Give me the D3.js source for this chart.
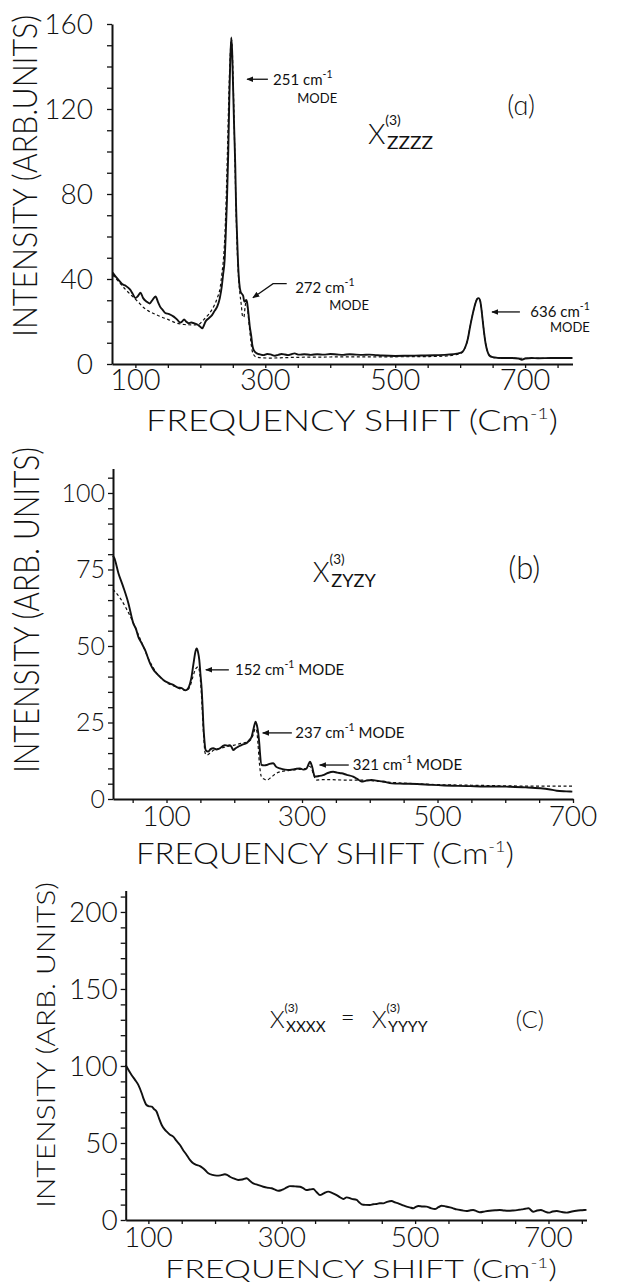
<!DOCTYPE html>
<html>
<head>
<meta charset="utf-8">
<title>Raman spectra, three polarizations</title>
<script src="https://cdn.jsdelivr.net/npm/d3@7/dist/d3.min.js"></script>
<style>
 body { margin: 0; background: #fff; }
 svg text { font-family: "Lato", "DejaVu Sans", sans-serif; fill: #111; }
 .num, .title, .big { font-weight: 300; }
 .note { font-weight: 400; }
 .domain { stroke: #111; stroke-width: 2; }
 .tick line { stroke: #111; stroke-width: 1.3; }
</style>
</head>
<body>
<script>
// ---- panel (a): chi zzzz ----
var aSolid = [[65,43],[70,41],[74,39.6],[80,37.5],[85,36.8],[92,35],[96,33],[100,31],[104,32],[108,33.5],
 [112,31],[117,29.4],[122,28.5],[126,30],[131,31.8],[135,29],[138,27],[142,25.5],[146,24],[152,23.5],
 [159,22.3],[164,21],[169,19.5],[172,20],[175,21],[178,20],[182,19.2],[186,19.5],[190,19.2],[196,18.5],
 [200,17.5],[203,16.8],[206,18.5],[208,20],[213,21.5],[218,23],[222,25],[226,27],[230,31],[233,36.5],
 [235,42],[237.4,49],[239,60],[241,77],[243,100],[244.6,124.6],[246,142],[247.7,153.7],[249,147],[250.3,132],
 [252,112],[253.8,93],[255,75],[256.4,61.7],[258,48],[260,38],[262,34],[264,33],[266,32],[267.7,29.4],
 [269,29.5],[270.8,30.2],[272,29],[274,24],[276,18],[278.5,12.9],[280,9],[282,6.6],[285,5.5],[287,5],
 [292,4.5],[297,4.2],[303,4.7],[308,4.5],[315,3.9],[320,4.3],[325,4.7],[330,4.5],[335,4.2],[340,4.6],
 [345,5],[352,4.4],[360,4.6],[370,4.3],[380,4.6],[390,4.4],[400,4.7],[410,4.5],[420,4.3],[430,4.6],
 [440,4.4],[450,4.3],[460,4.4],[470,4.2],[480,4],[500,3.8],[520,3.9],[540,4],[560,4.1],[580,4.4],
 [595,4.9],[603,5.6],[608,8],[612,12],[615,17],[619,23],[623,28],[626,30.5],[628.5,31],[631,29.5],
 [633.5,24],[636,17],[639,10],[642,6],[645,4],[650,3.2],[658,2.9],[670,2.8],
 [680,2.8],[690,2.6],[695,2],[700,2.6],[710,2.8],[720,2.7],[740,2.8],[760,2.8],[773,2.8]];
var aDashed = [[65,42],[75,38.5],[85,35],[95,32],[105,29],[113,26.5],[120,25],[130,23.5],[138.5,22.3],[150,21],
 [164,19.2],[175,18.6],[189,18.4],[197,18.6],[205,20.8],[213,23.5],[220.5,27],[226,31],[230.8,36.5],[233,42],
 [235.9,50.6],[238,62],[240,80],[242,103],[244,128],[246,145],[247.7,153],[249.5,145],[251,128],[253,100],
 [255,72],[257,52],[259,40],[261,33],[263,28],[265,22.5],[267,22],[269,27],[270.8,30],[272.5,27],
 [274,22],[276,16],[278,10],[280,6],[283,4],[287,3.2],[295,2.9],[310,2.8],[330,3],[360,3.2],
 [400,3.3],[450,3.4],[500,3.4],[550,3.5],[580,3.8],[595,4.5],[603,5.4],[608,8],[612,12],[615,17],
 [619,23],[623,28],[626,30.5],[628.5,31],[631,29.5],[633.5,24],[636,17],[639,10],[642,6],[645,4],
 [650,3.1],[660,2.8],[700,2.7],[773,2.7]];

// ---- panel (b): chi zyzy ----
var bSolid = [[21,79.5],[23,78.7],[29,73.8],[36,69.4],[43.7,64],[51,57.4],[55,55.5],[58.4,53],[63,51],[68.3,48.7],
 [75.7,44.3],[80,42.5],[85.5,41],[90,40],[95.3,38.9],[102,38],[110,37.3],[116,36.5],[122.4,36.2],[128,35.5],
 [132,36.2],[135,38],[137,40],[139,43],[140.6,45.4],[142.5,48],[144.5,49.2],[146.5,48],[148.4,45.4],[150,41],
 [152,35.6],[153.3,30],[154.3,24.7],[156,19],[157.8,16],[161.7,15.5],[165,16.3],[169,16.6],[174,16.2],[179,16.6],
 [183,17.3],[186,17.6],[190,17.4],[193.7,17.6],[196,17],[198.5,16],[202,16.6],[205.9,17.1],[212,17.8],[218,18.2],
 [222,19.2],[225.7,20.4],[228.5,23],[231.5,25.3],[233.5,24],[235.4,21.5],[237,18],[238,14.9],[240.4,11.1],[244,11],
 [247.8,11.1],[252,11.5],[257.5,11.7],[262,10.5],[267.4,10],[275,9.6],[282,9.5],[290,9.8],[297,10],[302,9.6],
 [306.8,10],[309,11],[311.7,12.2],[313.5,11.5],[315.6,10],[317,8.5],[319,7.3],[325,7.5],[331,7.8],[338,8.5],
 [346,8.9],[352,8.6],[358.4,8.4],[366,7.9],[375.5,7.3],[382,6.5],[388,5.7],[395,6],[402.6,6.2],[410,6],
 [420,5.7],[432.6,5.1],[450,5],[470,4.9],[490.7,4.6],[510,4.4],[530,4.3],[548.5,4.2],[570,4.1],[590,4.1],
 [606,4],[630,3.8],[652,3.5],[664,3.2],[676,2.7],[690,2.5],[699,2.4]];
var bDashed = [[21,68.5],[25,67.5],[32,65.5],[40,62.5],[48,59],[56,55],[65.8,49.8],[72,46.5],[80,43],[90,40],
 [100,38],[110,37],[120,36],[130,35.5],[135,37],[139,40],[143,42.5],[147,43.2],[149,41],[151,36],
 [153,28],[155,20],[157,15],[160,14.4],[165,15.2],[170,16],[180,16.6],[190,17.2],[200,17.6],[210,18.2],
 [218,18.5],[225,19.5],[228,21],[231,23],[233,22.5],[235,18],[237,12],[240,7.3],[244,6.5],[248,6.2],
 [255,7.2],[262,8.4],[270,9],[280,9.3],[287,9.5],[297,9.7],[307,10],[311,10.7],[314,10],[317,8],
 [321,6.2],[330,6.3],[345,6.3],[360,6.2],[385,6.2],[402,6],[420,5.6],[450,5.2],[500,4.7],[550,4.5],
 [600,4.3],[650,4.2],[700,4.2]];

// ---- panel (c): chi xxxx = chi yyyy ----
var cSolid = [[66,100.6],[70,97.5],[75,94],[80,91],[84.9,87.7],[90,82.3],[93,78.5],[96.4,75.1],[100,74],[105,73.6],
 [108.5,72],[112.4,70.3],[116,66],[120,61.7],[124,59],[127.4,57.4],[132,55.5],[137.3,54.1],[142,51.5],[147.4,48.7],
 [152,45.5],[157.4,42.2],[162,39.2],[167.3,36.8],[172,35.8],[177.4,35],[181,34],[184.9,32.5],[189.9,30.3],[196,29.3],
 [202.4,28.8],[208,29],[214.8,29.7],[218,29.3],[222.3,28.1],[228,27],[234.8,26],[241,26.3],[247.4,27.1],[252,25.5],
 [257.3,23.8],[264,22.8],[272.3,21.6],[278,21],[284.8,20.6],[290,19.7],[294.8,19],[299,19.3],[302.3,19.9],[307,21],
 [312.3,22],[320,21.8],[327.3,21.6],[332,20.7],[337.3,19.5],[342,19.8],[347.2,20.1],[352,18.2],[357.3,16.2],[363,17.3],
 [369.7,18.4],[376,17.5],[382.3,16.2],[388,14.6],[392.2,13.6],[397.3,14.7],[405,13.7],[412.3,13],[416,11.5],[419.8,10.2],
 [426,9.8],[432.2,9.7],[437,10.2],[442.3,10.4],[447,10.9],[452.2,10.8],[458,11.8],[464.8,12.3],[470,11.4],[474.7,10.8],
 [481,9.7],[487.3,8.7],[492,8.2],[497.2,7.6],[501,8.5],[504.7,9.1],[511,8.8],[517.2,8.7],[523,7.8],[529.7,7.1],
 [535,8.3],[539.7,9.3],[546,8.8],[552.2,8.2],[557,7.6],[562.2,6.9],[570,6.3],[577.2,5.8],[582,6.2],[587.1,6.5],
 [592,5.8],[597.2,5],[605,5.6],[612.1,6],[620,6.3],[627.1,6.5],[633,6.2],[639.6,6],[647,6.2],[655,6.6],
 [660,6.9],[665,7.3],[670,7.6],[677,5.4],[683,6.2],[688.6,6.5],[694,5.6],[700.6,4.8],[706,5.5],[712.5,5.8],
 [720,5.2],[727,4.8],[735,5.5],[741.8,6],[748,6.3],[753.5,6.5],[757,6.6]];

// tick values and labels
var aXTicks = d3.range(100, 751, 50), aYTicks = d3.range(0, 161, 10);
var aXLabels = [100, 300, 500, 700], aYLabels = [0, 40, 80, 120, 160];
var bXTicks = d3.range(50, 701, 50), bYTicks = d3.range(0, 106, 5);
var bXLabels = [100, 300, 500, 700], bYLabels = [0, 25, 50, 75, 100];
var cXTicks = d3.range(100, 751, 50), cYTicks = d3.range(0, 211, 10);
var cXLabels = [100, 300, 500, 700], cYLabels = [0, 50, 100, 150, 200];

// mode annotations: arrow points in data units, text anchor, label
var aModes = [
  {pts: [[304, 134], [272, 134]], tx: 312, ty: 131.2, num: "251", mx: 380, my: 122.7},
  {pts: [[333, 37.8], [312, 37.8], [281, 31.2]], tx: 346, ty: 33.5, num: "272", mx: 429, my: 25.5},
  {pts: [[692, 24.5], [649, 24.5]], tx: 708, ty: 22.2, num: "636", mx: 769, my: 15.1}
];
var bModes = [
  {pts: [[192, 42.2], [158, 42.2]], tx: 201, ty: 40.5, num: "152"},
  {pts: [[285, 21.6], [242, 21.6]], tx: 290, ty: 19.9, num: "237"},
  {pts: [[369, 11.1], [326, 11.1]], tx: 375, ty: 9.5, num: "321"}
];

var W = 617, H = 1285;
var svg = d3.select("body").append("svg").attr("width", W).attr("height", H);
svg.append("rect").attr("width", W).attr("height", H).attr("fill", "#fff");

svg.append("defs").append("marker")
   .attr("id", "head").attr("viewBox", "0 0 10 10")
   .attr("refX", 9).attr("refY", 5)
   .attr("markerWidth", 7).attr("markerHeight", 7)
   .attr("markerUnits", "userSpaceOnUse")
   .attr("orient", "auto")
   .append("path").attr("d", "M0,1 L10,5 L0,9 Z").attr("fill", "#111");

function panel(p) {
    var g = svg.append("g");
    var x = d3.scaleLinear().domain(p.xDomain).range(p.xRange);
    var y = d3.scaleLinear().domain(p.yDomain).range(p.yRange);

    g.append("g")
     .attr("transform", "translate(0," + p.yRange[0] + ")")
     .call(d3.axisBottom(x).tickValues(p.xTicks).tickSize(4).tickSizeOuter(0).tickFormat(""));
    g.append("g")
     .attr("transform", "translate(" + p.xRange[0] + ",0)")
     .call(d3.axisLeft(y).tickValues(p.yTicks).tickSize(5).tickSizeOuter(0).tickFormat(""));

    g.selectAll(".xl").data(p.xLabels).enter().append("text")
     .attr("class", "num")
     .attr("x", function(d){ return x(d); })
     .attr("y", p.yRange[0] + p.xLabDy)
     .attr("text-anchor", "middle")
     .style("font-size", p.numSize + "px")
     .text(function(d){ return d; });
    g.selectAll(".yl").data(p.yLabels).enter().append("text")
     .attr("class", "num")
     .attr("x", p.xRange[0] - p.yLabGap)
     .attr("y", function(d){ return y(d); })
     .attr("dy", "0.36em")
     .attr("text-anchor", "end")
     .style("font-size", p.yNumSize + "px")
     .text(function(d){ return d; });

    var line = d3.line()
        .x(function(d){ return x(d[0]); })
        .y(function(d){ return y(d[1]); })
        .curve(d3.curveMonotoneX);
    if (p.dashed) {
        g.append("path").datum(p.dashed)
         .attr("d", line).attr("fill", "none")
         .attr("stroke", "#111").attr("stroke-width", 1.2)
         .attr("stroke-dasharray", "3,2.5");
    }
    g.append("path").datum(p.solid)
     .attr("d", line).attr("fill", "none")
     .attr("stroke", "#111").attr("stroke-width", 1.9)
     .attr("stroke-linejoin", "round");

    // axis titles
    g.append("text").attr("class", "title")
     .attr("transform", "translate(" + p.yTitle[0] + "," + p.yTitle[1] + ") rotate(-90)")
     .attr("text-anchor", "middle")
     .style("font-size", p.yTitle[3] + "px")
     .attr("textLength", p.yTitle[2]).attr("lengthAdjust", "spacingAndGlyphs")
     .text(p.yTitleText);

    var xt = g.append("text").attr("class", "title")
     .attr("x", p.xTitle[0]).attr("y", p.xTitle[1])
     .style("font-size", p.xTitle[3] + "px")
     .attr("textLength", p.xTitle[2]).attr("lengthAdjust", "spacingAndGlyphs");
    xt.append("tspan").text("FREQUENCY  SHIFT  (Cm");
    xt.append("tspan").attr("dy", -p.xTitle[3] * 0.4).style("font-size", (p.xTitle[3] * 0.55) + "px").text("-1");
    xt.append("tspan").attr("dy", p.xTitle[3] * 0.4).text(")");

    return {g: g, x: x, y: y};
}

function chi(g, x0, y0, sub, size) {
    g.append("text").attr("class", "big").attr("x", x0).attr("y", y0)
     .style("font-size", size + "px").text("X");
    g.append("text").attr("class", "note").attr("x", x0 + size * 0.62).attr("y", y0 - size * 0.68)
     .style("font-size", (size * 0.5) + "px").text("(3)");
    g.append("text").attr("class", "note").attr("x", x0 + size * 0.68).attr("y", y0 + size * 0.18)
     .style("font-size", (size * 0.62) + "px")
     .attr("textLength", size * 1.65).attr("lengthAdjust", "spacingAndGlyphs").text(sub);
}

function arrowLine(g, P, pts) {
    g.append("path")
     .attr("d", d3.line()(pts.map(function(d){ return [P.x(d[0]), P.y(d[1])]; })))
     .attr("fill", "none").attr("stroke", "#111").attr("stroke-width", 1.3)
     .attr("marker-end", "url(#head)");
}

function cmText(g, x0, y0, num, size, tail) {
    var t = g.append("text").attr("class", "note").attr("x", x0).attr("y", y0)
        .style("font-size", size + "px");
    t.append("tspan").text(num + "  cm");
    t.append("tspan").attr("dy", -size * 0.45).style("font-size", (size * 0.7) + "px").text("-1");
    if (tail) t.append("tspan").attr("dy", size * 0.45).text(" " + tail);
    return t;
}

// ---------- (a) ----------
var A = panel({
    xDomain: [64, 773], xRange: [112, 572.5],
    yDomain: [0, 160], yRange: [364, 24],
    xTicks: aXTicks, yTicks: aYTicks, xLabels: aXLabels, yLabels: aYLabels,
    xLabDy: 26, yLabGap: 19, numSize: 29, yNumSize: 28,
    solid: aSolid, dashed: aDashed,
    yTitle: [37, 176, 322, 33], yTitleText: "INTENSITY (ARB.UNITS)",
    xTitle: [146, 431, 412, 30]
});
aModes.forEach(function(m) {
    arrowLine(A.g, A, m.pts);
    cmText(A.g, A.x(m.tx), A.y(m.ty), m.num, 15);
    A.g.append("text").attr("class", "note")
     .attr("x", A.x(m.mx)).attr("y", A.y(m.my))
     .attr("text-anchor", "middle").style("font-size", "13px").text("MODE");
});
A.g.append("text").attr("class", "big").attr("x", A.x(694)).attr("y", A.y(117))
 .attr("text-anchor", "middle").style("font-size", "27px").text("(ɑ)");
chi(A.g, A.x(458), A.y(103.4), "ZZZZ", 28);

// ---------- (b) ----------
var B = panel({
    xDomain: [21, 700], xRange: [113, 573],
    yDomain: [0, 108], yRange: [799, 468.5],
    xTicks: bXTicks, yTicks: bYTicks, xLabels: bXLabels, yLabels: bYLabels,
    xLabDy: 27, yLabGap: 8, numSize: 28, yNumSize: 25,
    solid: bSolid, dashed: bDashed,
    yTitle: [39, 610, 326, 36], yTitleText: "INTENSITY (ARB. UNITS)",
    xTitle: [136, 864, 378, 30]
});
bModes.forEach(function(m) {
    arrowLine(B.g, B, m.pts);
    cmText(B.g, B.x(m.tx), B.y(m.ty), m.num, 15, "MODE");
});
B.g.append("text").attr("class", "big").attr("x", B.x(628)).attr("y", B.y(71.9))
 .attr("text-anchor", "middle").style("font-size", "31px").text("(b)");
chi(B.g, B.x(316), B.y(70.9), "ZYZY", 27);

// ---------- (c) ----------
var C = panel({
    xDomain: [66, 757], xRange: [125.7, 586.5],
    yDomain: [0, 214], yRange: [1220, 890.4],
    xTicks: cXTicks, yTicks: cYTicks, xLabels: cXLabels, yLabels: cYLabels,
    xLabDy: 27, yLabGap: 8, numSize: 28, yNumSize: 28,
    solid: cSolid,
    yTitle: [55, 1045, 326, 26], yTitleText: "INTENSITY (ARB. UNITS)",
    xTitle: [165, 1278, 392, 26]
});
var cx0 = C.x(282), cy0 = C.y(124.7);
chi(C.g, cx0, cy0, "XXXX", 24);
C.g.append("text").attr("class", "big").attr("x", cx0 + 71).attr("y", cy0 - 2)
 .style("font-size", "24px").text("=");
chi(C.g, cx0 + 102, cy0, "YYYY", 24);
C.g.append("text").attr("class", "big").attr("x", C.x(672)).attr("y", cy0)
 .attr("text-anchor", "middle").style("font-size", "24px").text("(C)");
</script>
</body>
</html>
